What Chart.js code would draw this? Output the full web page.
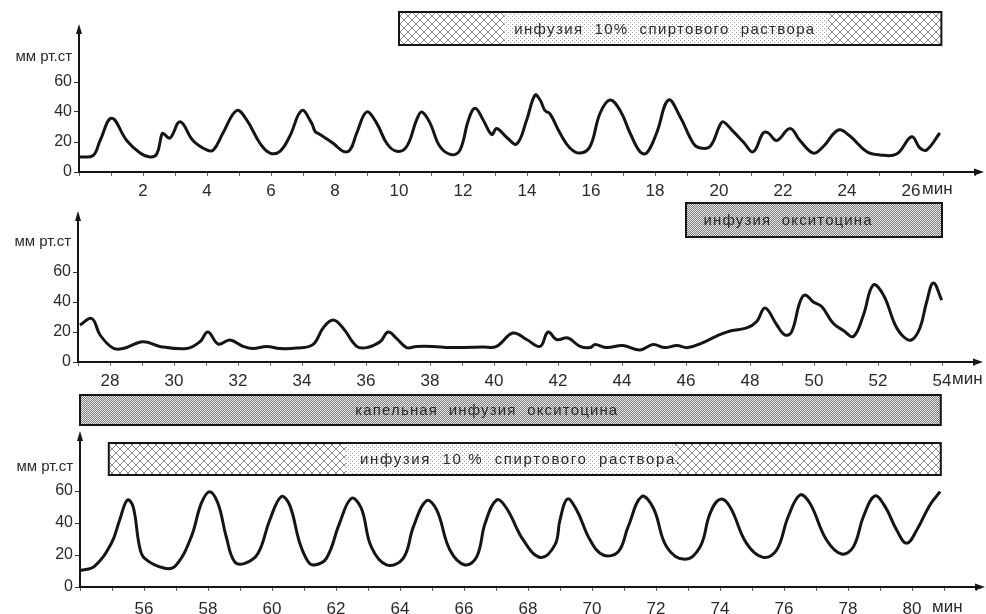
<!DOCTYPE html>
<html>
<head>
<meta charset="utf-8">
<script src="https://cdn.jsdelivr.net/npm/chart.js@4/dist/chart.umd.min.js"></script>
<style>
  body { margin: 0; background: #fff; width: 986px; height: 614px; overflow: hidden; position: relative; }
  canvas { position: absolute; left: 0; }
</style>
</head>
<body>
<canvas id="panel1" width="986" height="200" style="top:0"></canvas>
<canvas id="panel2" width="986" height="195" style="top:195px"></canvas>
<canvas id="panel3" width="986" height="229" style="top:385px"></canvas>
<script>
// --- traces (minutes / mm Hg) ---
const minutes1 = [0.03,0.44,0.66,1.02,1.49,1.91,2.22,2.43,2.58,2.63,
  2.84,3.16,3.56,3.99,4.2,4.5,4.93,5.24,5.66,5.97,
  6.28,6.59,6.96,7.27,7.38,7.53,7.95,8.26,8.47,8.68,
  8.99,9.3,9.62,9.93,10.24,10.55,10.71,10.97,11.28,11.65,
  11.91,12.17,12.38,12.63,12.9,13.05,13.37,13.68,13.99,14.25,
  14.41,14.56,14.72,15.03,15.34,15.66,15.97,16.28,16.59,16.91,
  17.22,17.53,17.74,18.05,18.42,18.78,19.2,19.41,19.72,20.03,
  20.13,20.45,20.76,21.07,21.38,21.54,21.8,22.22,22.53,22.95,
  23.26,23.73,24.09,24.62,25.03,25.55,26.02,26.28,26.49,26.9];
const pressure1 = [10,11,21,35.8,21,12.6,10,12,24.7,25.8,
  22.6,33.5,21,14.7,14.7,26,41,34.7,19,12.6,
  13.8,24,41,32.6,27,25,19,13.8,14.7,26,
  40,32.6,19,13.8,17,34.7,40,32.6,17,11.5,
  14.7,34.7,42.5,34.7,25,29,23,18.7,34.7,51.3,
  48,41,38.7,26,16,12.6,17,39,48,41,
  26,13.5,12.6,26,48,37,19,16,17,31.3,
  33.5,26.9,20,13.5,26,26,21,29,21,12.6,
  17,28,24,13.5,11.4,12,23.5,16,14.7,26];

const minutes2 = [27.06,27.43,27.69,28.09,28.41,29.03,29.56,30.4,30.81,31.06,
  31.38,31.75,32.16,32.47,32.9,33.31,33.83,34.34,34.66,34.97,
  35.28,35.71,36.02,36.44,36.69,36.96,37.27,37.58,38.09,38.63,
  39.66,40.08,40.59,41.02,41.44,41.69,41.96,42.31,42.69,43.0,
  43.16,43.52,44.03,44.56,44.97,45.34,45.71,46.06,46.53,46.96,
  47.38,47.9,48.21,48.47,48.83,49.09,49.3,49.56,49.72,49.98,
  50.24,50.6,50.92,51.23,51.54,51.85,52.17,52.53,52.79,53.05,
  53.31,53.52,53.73,53.99];
const pressure2 = [24.7,29,18,9.3,9,13.5,10.4,9,13.5,20,
  12,14.7,10.4,9,10.4,9,9.3,11.6,22.7,28,
  22.7,10.4,9.6,13.5,20,15.6,9.6,10.4,10.4,9.6,
  10,10.4,19.3,15,10.4,20,15,16,10.4,9.6,
  11.6,9.6,11,8,11.6,9.6,11,9.6,12.9,17.3,
  20.7,22.7,27,36,25,18,20,40,44.7,40,
  37,25.8,21,17,31,51.3,44.7,25,17,14.7,
  22.7,40,52.7,41.3];

const minutes3 = [54.0,54.46,54.98,55.24,55.48,55.66,55.86,56.02,56.65,57.01,
  57.48,57.79,58.05,58.31,58.57,58.83,59.15,59.56,59.93,60.29,
  60.55,60.87,61.13,61.33,61.7,62.11,62.48,62.79,63.1,63.58,
  64.1,64.42,64.83,65.15,65.56,66.03,66.4,66.66,67.02,67.33,
  67.85,68.38,68.84,69.0,69.23,69.52,69.94,70.35,70.82,71.13,
  71.55,71.92,72.33,72.91,73.38,73.69,74.0,74.31,74.83,75.35,
  75.77,76.13,76.5,76.81,77.33,77.8,78.17,78.48,78.84,79.16,
  79.52,79.83,80.15,80.56,80.88];
const pressure3 = [10.2,13.1,27.3,41.9,54.4,50.2,25.2,17.9,11.7,13.8,
  31.5,52.3,59.6,52.3,31.4,15.8,14.8,21,41.9,56.5,
  51.3,27.3,15.8,13.8,17.9,39.8,55.4,49.2,25.2,13.8,
  17.9,37.7,54,48.1,23.1,13.8,19,39.8,54.4,49.2,
  29.4,18.5,26.3,41.9,55,48.1,29.4,20,22.1,37.7,
  56.5,49.2,25.2,17.3,25.2,46,54.8,50.2,27.3,18.5,
  23.1,43.9,57.5,52.3,29.4,20.6,25.2,43.9,56.9,50.2,
  35.6,27.3,35.6,51.3,59.6];

const pressureTicks = [0, 20, 40, 60];
const minuteLabels1 = [2,4,6,8,10,12,14,16,18,20,22,24,26];
const minuteLabels2 = [28,30,32,34,36,38,40,42,44,46,48,50,52,54];
const minuteLabels3 = [56,58,60,62,64,66,68,70,72,74,76,78,80];

// infusion periods, minutes
const alcoholSpan1 = [10, 26.95];
const oxytocinSpan2 = [46, 54];
const dripSpan3 = [54, 80.9];
const alcoholSpan3 = [54.9, 80.9];

const INK = '#151515';
const TEXT = '#2a2a2a';
const FONT = '"Liberation Sans", "DejaVu Sans", sans-serif';

function makeTile(size, paint) {
  const c = document.createElement('canvas');
  c.width = size; c.height = size;
  paint(c.getContext('2d'));
  return c;
}
const tiles = {
  dots: makeTile(4, g => {
    g.fillStyle = '#fff'; g.fillRect(0, 0, 4, 4);
    g.fillStyle = '#a0a0a0'; g.fillRect(0, 0, 1, 1); g.fillRect(2, 2, 1, 1);
  }),
  hatch: makeTile(8, g => {
    g.fillStyle = '#fff'; g.fillRect(0, 0, 8, 8);
    g.strokeStyle = '#8c8c8c'; g.lineWidth = 1;
    g.beginPath(); g.moveTo(0, 8); g.lineTo(8, 0); g.moveTo(0, 0); g.lineTo(8, 8); g.stroke();
  }),
  dark: makeTile(2, g => {
    g.fillStyle = '#e6e6e6'; g.fillRect(0, 0, 2, 2);
    g.fillStyle = '#808080'; g.fillRect(0, 0, 1, 1); g.fillRect(1, 1, 1, 1);
  })
};

// arrows, the "мин" unit and the infusion bars
const sketchPlugin = {
  id: 'sketch',
  afterDraw(chart, args, opts) {
    const { ctx, chartArea: a, scales: { x } } = chart;
    ctx.save();
    ctx.strokeStyle = INK; ctx.fillStyle = INK; ctx.lineWidth = 2;
    ctx.beginPath(); ctx.moveTo(a.right, a.bottom); ctx.lineTo(a.right + 5, a.bottom); ctx.stroke();
    ctx.beginPath();
    ctx.moveTo(a.right + 9, a.bottom); ctx.lineTo(a.right - 1, a.bottom - 3.5); ctx.lineTo(a.right - 1, a.bottom + 3.5);
    ctx.closePath(); ctx.fill();
    ctx.beginPath();
    ctx.moveTo(a.left, a.top - 4); ctx.lineTo(a.left - 3, a.top + 6); ctx.lineTo(a.left + 3, a.top + 6);
    ctx.closePath(); ctx.fill();

    ctx.font = '17px ' + FONT; ctx.fillStyle = TEXT;
    ctx.textAlign = 'left'; ctx.textBaseline = 'top';
    ctx.fillText('мин', x.getPixelForValue(opts.unitAt) + opts.unitDx, a.bottom + opts.labelGap);

    for (const b of opts.bands) {
      const x0 = x.getPixelForValue(b.span[0]);
      const x1 = x.getPixelForValue(b.span[1]);
      const h = b.bottom - b.top;
      ctx.fillStyle = ctx.createPattern(tiles[b.base], 'repeat');
      ctx.fillRect(x0, b.top, x1 - x0, h);
      for (const s of b.hatch || []) {
        const h0 = x.getPixelForValue(s[0]), h1 = x.getPixelForValue(s[1]);
        ctx.fillStyle = ctx.createPattern(tiles.hatch, 'repeat');
        ctx.fillRect(h0, b.top, h1 - h0, h);
      }
      ctx.lineWidth = 2; ctx.strokeStyle = INK;
      ctx.strokeRect(x0, b.top, x1 - x0, h);

      ctx.font = '15px ' + FONT;
      ctx.letterSpacing = '0px';
      const w = ctx.measureText(b.label).width;
      ctx.letterSpacing = Math.max(0, (b.labelWidth - w) / (b.label.length - 1)) + 'px';
      ctx.fillStyle = TEXT; ctx.textBaseline = 'middle';
      ctx.fillText(b.label, x.getPixelForValue(b.labelAt), (b.top + b.bottom) / 2 + 1);
      ctx.letterSpacing = '0px';
    }
    ctx.restore();
  }
};

function drawPanel(id, cfg) {
  const unitTick = cfg.unitTick;
  new Chart(document.getElementById(id), {
    type: 'line',
    data: {
      datasets: [{
        data: cfg.minutes.map((m, i) => ({ x: m, y: cfg.pressure[i] })),
        borderColor: INK,
        borderWidth: 3,
        pointRadius: 0,
        fill: false,
        tension: 0.4
      }]
    },
    options: {
      responsive: false,
      animation: false,
      events: [],
      layout: { padding: { top: cfg.padTop, right: cfg.padRight, left: 0, bottom: 0 } },
      plugins: {
        legend: { display: false },
        tooltip: { enabled: false },
        sketch: { bands: cfg.bands, unitAt: cfg.unitAt, unitDx: cfg.unitDx, labelGap: cfg.labelGap }
      },
      scales: {
        x: {
          type: 'linear',
          min: cfg.xMin,
          max: cfg.xMax,
          afterFit: s => { s.height = cfg.xHeight; },
          border: { display: true, color: INK, width: 2 },
          grid: { drawOnChartArea: false, drawTicks: true, tickLength: 4, color: '#666' },
          ticks: {
            stepSize: 1,
            autoSkip: false,
            maxRotation: 0,
            padding: cfg.labelGap - 4,
            color: TEXT,
            font: { family: FONT, size: 17 },
            callback: v => (cfg.labels.includes(v) ? String(v) : '')
          }
        },
        y: {
          min: 0,
          max: cfg.yMax,
          afterFit: s => { s.width = cfg.yWidth; },
          afterBuildTicks: s => { s.ticks = pressureTicks.concat(unitTick).map(v => ({ value: v })); },
          border: { display: true, color: INK, width: 2 },
          grid: {
            drawOnChartArea: false, drawTicks: true, tickLength: 5,
            color: c => (c.tick && c.tick.value === unitTick ? 'rgba(0,0,0,0)' : '#333')
          },
          ticks: {
            padding: 2,
            color: TEXT,
            font: c => (c.tick && c.tick.value === unitTick ? { family: FONT, size: 15 } : { family: FONT, size: 16 }),
            callback: v => (v === unitTick ? 'мм рт.ст' : String(v))
          }
        }
      }
    },
    plugins: [sketchPlugin]
  });
}

drawPanel('panel1', {
  minutes: minutes1, pressure: pressure1, labels: minuteLabels1,
  xMin: 0, xMax: 28, yMax: 96, yWidth: 79, xHeight: 28, padTop: 28, padRight: 11,
  unitTick: 76.7, unitAt: 26, unitDx: 11, labelGap: 9,
  bands: [{ span: alcoholSpan1, top: 12, bottom: 45, base: 'dots', hatch: [[10, 13.3], [23.4, 26.95]],
    label: 'инфузия  10%  спиртового  раствора', labelAt: 13.6, labelWidth: 300 }]
});

drawPanel('panel2', {
  minutes: minutes2, pressure: pressure2, labels: minuteLabels2,
  xMin: 27, xMax: 55, yMax: 98, yWidth: 78, xHeight: 28, padTop: 20, padRight: 12,
  unitTick: 80, unitAt: 54, unitDx: 10, labelGap: 9,
  bands: [{ span: oxytocinSpan2, top: 8, bottom: 42, base: 'dark',
    label: 'инфузия  окситоцина', labelAt: 46.55, labelWidth: 168 }]
});

drawPanel('panel3', {
  minutes: minutes3, pressure: pressure3, labels: minuteLabels3,
  xMin: 54, xMax: 82, yMax: 95, yWidth: 80, xHeight: 27, padTop: 50, padRight: 10,
  unitTick: 75, unitAt: 80, unitDx: 20, labelGap: 12,
  bands: [
    { span: dripSpan3, top: 10, bottom: 40, base: 'dark',
      label: 'капельная  инфузия  окситоцина', labelAt: 62.6, labelWidth: 262 },
    { span: alcoholSpan3, top: 58, bottom: 90, base: 'dots', hatch: [[54.9, 62.3], [72.6, 80.9]],
      label: 'инфузия  10 %  спиртового  раствора.', labelAt: 62.75, labelWidth: 320 }
  ]
});
</script>
</body>
</html>
